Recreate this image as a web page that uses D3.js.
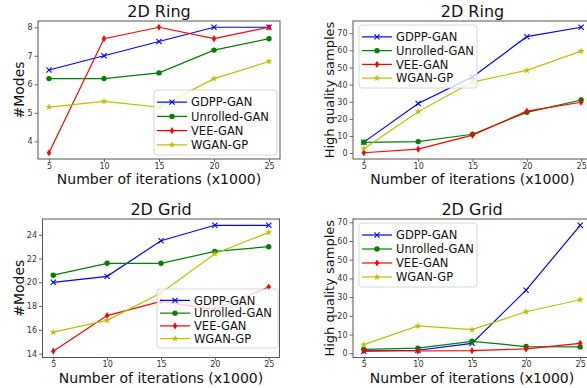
<!DOCTYPE html>
<html>
<head>
<meta charset="utf-8">
<script src="https://cdn.jsdelivr.net/npm/d3@7"></script>
<style>
  html, body { margin: 0; padding: 0; background: #fff; }
  svg { display: block; font-family: "DejaVu Sans", sans-serif; }
</style>
</head>
<body>
<svg id="chart" width="587" height="388"></svg>
<script>
// Training iterations (x1000)
const iterations = [5, 10, 15, 20, 25];
const xTicks = [5, 10, 15, 20, 25];

const methods = ["GDPP-GAN", "Unrolled-GAN", "VEE-GAN", "WGAN-GP"];

// 2D Ring: number of modes captured
const ringModesGDPP     = [6.5, 7.0, 7.5, 8.0, 8.0];
const ringModesUnrolled = [6.2, 6.2, 6.4, 7.2, 7.6];
const ringModesVEE      = [3.6, 7.6, 8.0, 7.6, 8.0];
const ringModesWGAN     = [5.2, 5.4, 5.2, 6.2, 6.8];
const ringModesTicks    = [4, 5, 6, 7, 8];

// 2D Ring: high quality samples (%)
const ringHQGDPP     = [6.4, 29.0, 44.5, 68.0, 73.5];
const ringHQUnrolled = [6.3, 6.7, 11.0, 23.8, 31.0];
const ringHQVEE      = [0.2, 2.3, 10.5, 24.5, 29.7];
const ringHQWGAN     = [2.5, 24.2, 41.5, 48.3, 59.6];
const ringHQTicks    = [0, 10, 20, 30, 40, 50, 60, 70];

// 2D Grid: number of modes captured
const gridModesGDPP     = [20.0, 20.5, 23.5, 24.8, 24.8];
const gridModesUnrolled = [20.6, 21.6, 21.6, 22.6, 23.0];
const gridModesVEE      = [14.2, 17.2, 18.4, 17.7, 19.6];
const gridModesWGAN     = [15.8, 16.8, 19.1, 22.4, 24.2];
const gridModesTicks    = [14, 16, 18, 20, 22, 24];

// 2D Grid: high quality samples (%)
const gridHQGDPP     = [1.1, 1.6, 5.3, 33.7, 68.4];
const gridHQUnrolled = [2.1, 2.7, 6.4, 3.6, 3.4];
const gridHQVEE      = [1.4, 1.2, 1.4, 2.3, 5.3];
const gridHQWGAN     = [4.6, 14.6, 12.6, 22.2, 28.6];
const gridHQTicks    = [0, 10, 20, 30, 40, 50, 60, 70];

const colors = { "GDPP-GAN": "#0000ff", "Unrolled-GAN": "#008000", "VEE-GAN": "#ff0000", "WGAN-GP": "#bfbf00" };
const markers = { "GDPP-GAN": "x", "Unrolled-GAN": "o", "VEE-GAN": "d", "WGAN-GP": "*" };

const panels = [
  { title: "2D Ring", ylabel: "#Modes", series: [ringModesGDPP, ringModesUnrolled, ringModesVEE, ringModesWGAN],
    yTicks: ringModesTicks, box: { l: 38, r: 280, t: 21, b: 159 },
    legend: { x: 154, y: 90, w: 123, h: 65 }, ylabelX: 24, xlabelY: 184 },
  { title: "2D Ring", ylabel: "High quality samples", series: [ringHQGDPP, ringHQUnrolled, ringHQVEE, ringHQWGAN],
    yTicks: ringHQTicks, box: { l: 353, r: 592, t: 21, b: 159 },
    legend: { x: 359, y: 25, w: 118, h: 63 }, ylabelX: 334, xlabelY: 184 },
  { title: "2D Grid", ylabel: "#Modes", series: [gridModesGDPP, gridModesUnrolled, gridModesVEE, gridModesWGAN],
    yTicks: gridModesTicks, box: { l: 42.5, r: 279.5, t: 219, b: 357.5 },
    legend: { x: 157, y: 289, w: 121, h: 59 }, ylabelX: 24, xlabelY: 383 },
  { title: "2D Grid", ylabel: "High quality samples", series: [gridHQGDPP, gridHQUnrolled, gridHQVEE, gridHQWGAN],
    yTicks: gridHQTicks, box: { l: 353, r: 591, t: 219, b: 357.5 },
    legend: { x: 359, y: 223, w: 118, h: 64 }, ylabelX: 334, xlabelY: 383 }
];

const svg = d3.select("#chart");

// Draws a marker of the given kind centred at the origin of group g
function drawMarker(g, kind, color) {
  if (kind === "x") {
    const s = 2.6;
    g.append("path").attr("d", `M${-s},${-s}L${s},${s}M${-s},${s}L${s},${-s}`)
      .attr("stroke", color).attr("stroke-width", 1.1).attr("fill", "none");
  } else if (kind === "o") {
    g.append("circle").attr("r", 2.7).attr("fill", color);
  } else if (kind === "d") {
    g.append("path").attr("d", "M0,-3.6L2.2,0L0,3.6L-2.2,0Z").attr("fill", color);
  } else {
    g.append("path").attr("d", d3.symbol(d3.symbolStar, 16)()).attr("fill", color);
  }
}

panels.forEach(p => {
  const b = p.box;
  const all = p.series.flat();
  const [lo, hi] = d3.extent(all);
  const pad = (hi - lo) * 0.05;
  const x = d3.scaleLinear().domain([4, 26]).range([b.l, b.r]);
  const y = d3.scaleLinear().domain([lo - pad, hi + pad]).range([b.b, b.t]);

  const g = svg.append("g");

  const clipId = "clip" + Math.round(b.l) + "_" + Math.round(b.t);
  svg.append("clipPath").attr("id", clipId)
    .append("rect").attr("x", b.l).attr("y", b.t).attr("width", b.r - b.l).attr("height", b.b - b.t);

  // Axes
  const xAxis = d3.axisBottom(x).tickValues(xTicks).tickSize(3).tickPadding(1).tickFormat(d3.format("d"));
  const yAxis = d3.axisLeft(y).tickValues(p.yTicks).tickSize(3.5).tickPadding(2).tickFormat(d3.format("d"));
  const gx = g.append("g").attr("transform", `translate(0,${b.b})`).call(xAxis);
  const gy = g.append("g").attr("transform", `translate(${b.l},0)`).call(yAxis);
  [gx, gy].forEach(a => {
    a.select(".domain").remove();
    a.selectAll(".tick line").attr("stroke", "#444").attr("stroke-width", 0.8);
    a.selectAll(".tick text").attr("fill", "#333").attr("font-size", 8)
      .attr("font-family", "DejaVu Sans, sans-serif");
  });

  // Series lines and markers
  const plot = g.append("g").attr("clip-path", `url(#${clipId})`);
  p.series.forEach((vals, i) => {
    const name = methods[i];
    const pts = iterations.map((it, k) => [it, vals[k]]);
    plot.append("path").datum(pts)
      .attr("d", d3.line().x(d => x(d[0])).y(d => y(d[1])))
      .attr("fill", "none").attr("stroke", colors[name]).attr("stroke-width", 1.2);
    pts.forEach(d => {
      drawMarker(plot.append("g").attr("transform", `translate(${x(d[0])},${y(d[1])})`), markers[name], colors[name]);
    });
  });

  // Frame
  g.append("rect").attr("x", b.l).attr("y", b.t).attr("width", b.r - b.l).attr("height", b.b - b.t)
    .attr("fill", "none").attr("stroke", "#555").attr("stroke-width", 1);

  // Legend
  const L = p.legend;
  const lg = g.append("g");
  lg.append("rect").attr("x", L.x).attr("y", L.y).attr("width", L.w).attr("height", L.h)
    .attr("rx", 3).attr("fill", "#fff").attr("fill-opacity", 0.8)
    .attr("stroke", "#ccc").attr("stroke-width", 0.8);
  const step = (L.h - 8) / 4;
  methods.forEach((name, i) => {
    const cy = L.y + 8 + step * (i + 0.5) - 4 + 1;
    lg.append("line").attr("x1", L.x + 3).attr("x2", L.x + 33).attr("y1", cy).attr("y2", cy)
      .attr("stroke", colors[name]).attr("stroke-width", 1.2);
    drawMarker(lg.append("g").attr("transform", `translate(${L.x + 18},${cy})`), markers[name], colors[name]);
    lg.append("text").attr("x", L.x + 37).attr("y", cy).attr("dy", "0.36em")
      .attr("font-size", 11.5).attr("fill", "#111").text(name);
  });

  // Title and axis labels
  g.append("text").attr("x", (b.l + Math.min(b.r, 592)) / 2).attr("y", b.t - 4.5)
    .attr("text-anchor", "middle").attr("font-size", 16).attr("fill", "#111").text(p.title);
  g.append("text").attr("x", (b.l + b.r) / 2).attr("y", p.xlabelY)
    .attr("text-anchor", "middle").attr("font-size", 14).attr("fill", "#111").text("Number of iterations (x1000)");
  g.append("text").attr("transform", `translate(${p.ylabelX},${(b.t + b.b) / 2}) rotate(-90)`)
    .attr("text-anchor", "middle").attr("font-size", p.ylabel === "#Modes" ? 14 : 13).attr("fill", "#111").text(p.ylabel);
});
</script>
</body>
</html>
